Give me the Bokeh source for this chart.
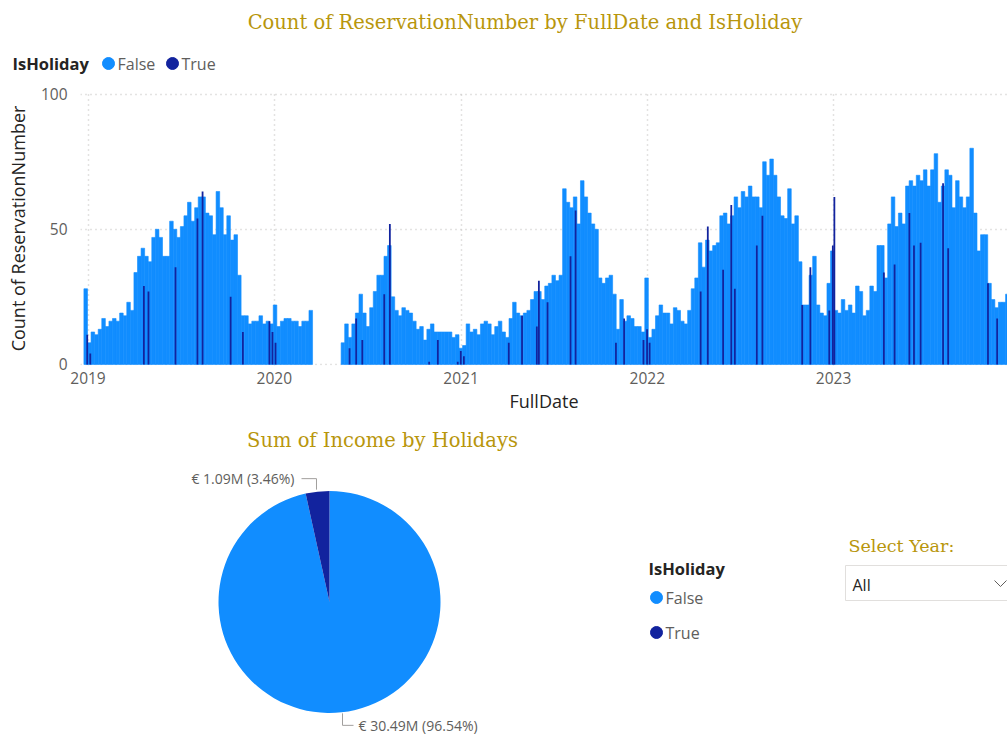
import math
import pandas as pd
from bokeh.plotting import figure
from bokeh.layouts import column
from bokeh.models import Range1d, FixedTicker
from bokeh.core.properties import value
from bokeh.embed import file_html
from bokeh.resources import INLINE

# ---------------- data ----------------
# weekly reservation counts (non-holiday days), weeks starting on these dates
seg1_start = "2018-12-24"
seg1_counts = [28, 8, 12, 11, 13, 17, 14, 16, 17, 16,
               19, 18, 23, 20, 34, 40, 43, 40, 38, 47,
               50, 47, 40, 40, 53, 50, 47, 51, 55, 60,
               53, 58, 62, 62, 56, 55, 48, 64, 58, 48,
               55, 46, 48, 33, 18, 18, 15, 16, 16, 18,
               15, 16, 15, 22, 14, 16, 17, 17, 16, 16,
               14, 16, 16, 20]
seg2_start = "2020-05-11"
seg2_counts = [8, 15, 10, 15, 19, 26, 19, 14, 21, 27,
               33, 33, 40, 44, 25, 20, 18, 21, 20, 19,
               16, 13, 14, 9, 13, 15, 12, 12, 12, 12,
               12, 10, 11, 6, 7, 15, 12, 13, 11, 15,
               16, 15, 11, 14, 16, 12, 10, 17, 23, 19,
               18, 19, 20, 24, 27, 27, 24, 29, 30, 33,
               31, 33, 65, 60, 58, 62, 52, 68, 62, 56,
               52, 50, 32, 30, 32, 33, 26, 13, 24, 16,
               18, 17, 14, 14, 12, 32, 10, 13, 18, 22,
               19, 19, 15, 21, 20, 16, 15, 20, 28, 32,
               45, 36, 46, 42, 44, 45, 55, 56, 52, 55,
               62, 58, 64, 62, 66, 62, 62, 58, 75, 70,
               76, 70, 62, 55, 54, 65, 52, 55, 38, 22,
               22, 33, 40, 22, 19, 18, 30, 42, 20, 19,
               24, 20, 22, 19, 29, 27, 18, 20, 29, 27,
               44, 44, 32, 52, 62, 51, 56, 52, 66, 68,
               66, 70, 68, 72, 66, 72, 78, 60, 66, 72,
               70, 58, 68, 62, 58, 62, 80, 56, 42, 48,
               48, 30, 24, 21, 23, 23, 26]

holiday_dates = ["2018-12-30", "2019-01-05", "2019-04-20", "2019-04-29", "2019-06-21",
                 "2019-08-03", "2019-08-13", "2019-10-07", "2019-10-31", "2019-12-22",
                 "2019-12-28", "2020-01-03", "2020-05-27", "2020-06-09", "2020-06-21",
                 "2020-08-03", "2020-08-14", "2020-10-30", "2020-11-16", "2020-12-25",
                 "2020-12-31", "2021-01-06", "2021-04-04", "2021-04-30", "2021-05-29",
                 "2021-06-02", "2021-06-19", "2021-08-03", "2021-08-13", "2021-10-31",
                 "2021-11-16", "2021-12-24", "2021-12-31", "2022-01-05", "2022-04-15",
                 "2022-04-29", "2022-05-29", "2022-06-14", "2022-06-21", "2022-08-03",
                 "2022-08-14", "2022-10-31", "2022-11-16", "2022-12-23", "2022-12-30",
                 "2023-01-02", "2023-04-09", "2023-04-30", "2023-05-29", "2023-06-07",
                 "2023-06-20", "2023-08-03", "2023-08-13", "2023-10-30", "2023-11-17"]
holiday_counts = [11, 4, 29, 27, 36, 54, 64, 25, 12, 16,
                  12, 8, 6, 17, 9, 26, 52, 1, 9, 1,
                  5, 3, 8, 18, 14, 31, 23, 40, 57, 8,
                  17, 9, 13, 8, 27, 51, 35, 59, 28, 44,
                  55, 22, 36, 20, 44, 62, 34, 37, 56, 44,
                  45, 67, 43, 30, 17]

year_labels = ["2019", "2020", "2021", "2022", "2023"]
y_ticks = [0, 50, 100]

pie_labels = ["False", "True"]
pie_income_m = [30.49, 1.09]
pie_pct = [96.54, 3.46]

# ---------------- style ----------------
FALSE_C = "#118DFF"
TRUE_C = "#12239E"
GOLD = "#B8960C"
TICK_C = "#605E5C"
DARK_C = "#252423"
GRID_C = "#C8C6C4"
SANS = value("Open Sans")
SERIF = value("DejaVu Serif")
W = 1007
DAY = 24 * 3600 * 1000


def blank(fig):
    fig.axis.visible = False
    fig.grid.visible = False
    fig.outline_line_color = None


# ---------------- header (title + legend) ----------------
H1 = 78
hdr = figure(width=W, height=H1, x_range=Range1d(0, W), y_range=Range1d(0, H1),
             output_backend="svg", toolbar_location=None, min_border=0, frame_align=False)
blank(hdr)
hdr.text(x=[524.5], y=[H1 - 22], text=["Count of ReservationNumber by FullDate and IsHoliday"],
         text_align="center", text_baseline="middle", text_font=SERIF,
         text_font_size="19.5px", text_color=GOLD)
hdr.text(x=[12], y=[H1 - 63], text=["IsHoliday"], text_align="left", text_baseline="middle",
         text_font=SANS, text_font_style="bold", text_font_size="16.5px", text_color=DARK_C)
hdr.scatter(x=[108, 172], y=[H1 - 63, H1 - 63], size=12, color=[FALSE_C, TRUE_C])
hdr.text(x=[117, 181], y=[H1 - 63, H1 - 63], text=pie_labels, text_align="left",
         text_baseline="middle", text_font=SANS, text_font_size="16px", text_color=TICK_C)

# ---------------- bar chart ----------------
wk1 = pd.date_range(seg1_start, periods=len(seg1_counts), freq="7D") + pd.Timedelta(hours=84)
wk2 = pd.date_range(seg2_start, periods=len(seg2_counts), freq="7D") + pd.Timedelta(hours=84)
hol = pd.to_datetime(holiday_dates) + pd.Timedelta(hours=12)

days_per_px = 365.25 / 186.4
t0 = pd.Timestamp("2019-01-01")
x_start = t0 - pd.Timedelta(days=7.5 * days_per_px)
x_end = t0 + pd.Timedelta(days=(W - 87.5) * days_per_px)

p = figure(width=W, height=350, x_axis_type="datetime",
           x_range=Range1d(x_start, x_end), y_range=Range1d(-0.4, 101),
           output_backend="svg", toolbar_location=None, frame_align=False,
           min_border_left=80, min_border_right=0, min_border_top=13, min_border_bottom=63)
p.outline_line_color = None
p.vbar(x=list(wk1) + list(wk2), top=seg1_counts + seg2_counts, width=7 * DAY,
       fill_color=FALSE_C, line_color=FALSE_C, line_width=0.6)
p.vbar(x=hol, top=holiday_counts, width=3.5 * DAY, fill_color=TRUE_C, line_color=None)

year_ms = [pd.Timestamp(f"{y}-01-01").value / 1e6 for y in year_labels]
p.xaxis.ticker = FixedTicker(ticks=year_ms)
p.xaxis.major_label_overrides = {t: y for t, y in zip(year_ms, year_labels)}
p.yaxis.ticker = FixedTicker(ticks=y_ticks)
p.xgrid.ticker = FixedTicker(ticks=year_ms)
p.ygrid.ticker = FixedTicker(ticks=y_ticks)
for g in (p.xgrid, p.ygrid):
    g.grid_line_color = GRID_C
    g.grid_line_dash = "1 4"
    g.grid_line_width = 1.5
p.axis.axis_line_color = None
p.axis.major_tick_line_color = None
p.axis.minor_tick_line_color = None
p.axis.major_tick_out = 0
p.axis.major_tick_in = 0
p.axis.minor_tick_out = 0
p.axis.major_label_text_font = "Open Sans"
p.axis.major_label_text_font_size = "15.5px"
p.axis.major_label_text_color = TICK_C
p.axis.axis_label_text_font = "Open Sans"
p.axis.axis_label_text_font_size = "18px"
p.axis.axis_label_text_font_style = "normal"
p.axis.axis_label_text_color = DARK_C
p.xaxis.axis_label = "FullDate"
p.yaxis.axis_label = "Count of ReservationNumber"
p.yaxis.major_label_standoff = 13
p.yaxis.axis_label_standoff = 8
p.xaxis.major_label_standoff = 6
p.xaxis.axis_label_standoff = 2

# ---------------- bottom: pie, legend, slicer ----------------
H2 = 306
b = figure(width=W, height=H2, x_range=Range1d(0, W), y_range=Range1d(0, H2),
           output_backend="svg", toolbar_location=None, min_border=0, frame_align=False)
blank(b)
TOP = 428  # page y of this panel's top edge


def Y(page_y):
    return TOP + H2 - page_y


cx, cy, r = 329, Y(601.5), 111
total = sum(pie_income_m)
frac_true = pie_income_m[1] / total
a0 = math.pi / 2
a1 = a0 + 2 * math.pi * frac_true
b.wedge(x=[cx, cx], y=[cy, cy], radius=r,
        start_angle=[a1, a0], end_angle=[a0 + 2 * math.pi, a1],
        fill_color=[FALSE_C, TRUE_C], line_color=None)

b.text(x=[382], y=[Y(440)], text=["Sum of Income by Holidays"], text_align="center",
       text_baseline="middle", text_font=SERIF, text_font_size="19.5px", text_color=GOLD)

# leader lines + labels
LEAD = "#A19F9D"
mt = (a0 + a1) / 2
px_t, py_t = cx + r * math.cos(mt), cy + r * math.sin(mt)
b.line(x=[px_t - 1, px_t - 1, px_t - 16], y=[py_t + 2, py_t + 13, py_t + 13], line_color=LEAD, line_width=1)
b.text(x=[px_t - 23], y=[py_t + 13], text=[f"€ {pie_income_m[1]:.2f}M ({pie_pct[1]:.2f}%)"],
       text_align="right", text_baseline="middle", text_font=SANS, text_font_size="14px",
       text_color=TICK_C)
mf = (a1 + a0 + 2 * math.pi) / 2
px_f, py_f = cx + r * math.cos(mf), cy + r * math.sin(mf)
b.line(x=[px_f + 1, px_f + 1, px_f + 12], y=[py_f - 1, py_f - 13, py_f - 13], line_color=LEAD, line_width=1)
b.text(x=[px_f + 17], y=[py_f - 13], text=[f"€ {pie_income_m[0]:.2f}M ({pie_pct[0]:.2f}%)"],
       text_align="left", text_baseline="middle", text_font=SANS, text_font_size="14px",
       text_color=TICK_C)

# legend
b.text(x=[648], y=[Y(568)], text=["IsHoliday"], text_align="left", text_baseline="middle",
       text_font=SANS, text_font_style="bold", text_font_size="16.5px", text_color=DARK_C)
b.scatter(x=[656, 656], y=[Y(597), Y(632)], size=12, color=[FALSE_C, TRUE_C])
b.text(x=[665, 665], y=[Y(597), Y(632)], text=pie_labels, text_align="left", text_baseline="middle",
       text_font=SANS, text_font_size="16px", text_color=TICK_C)

# year slicer
b.text(x=[848], y=[Y(545)], text=["Select Year:"], text_align="left", text_baseline="middle",
       text_font=SERIF, text_font_size="17.5px", text_color=GOLD)
b.quad(left=[845], right=[1015], top=[Y(565)], bottom=[Y(600)], fill_color="white",
       line_color="#E1DFDD", line_width=1)
b.text(x=[852], y=[Y(584)], text=["All"], text_align="left", text_baseline="middle",
       text_font=SANS, text_font_size="16px", text_color=DARK_C)
b.line(x=[994, 1000, 1006], y=[Y(580), Y(586), Y(580)], line_color=TICK_C, line_width=1)

layout = column(hdr, p, b, spacing=0)
open("out.html", "w").write(file_html(layout, INLINE))
